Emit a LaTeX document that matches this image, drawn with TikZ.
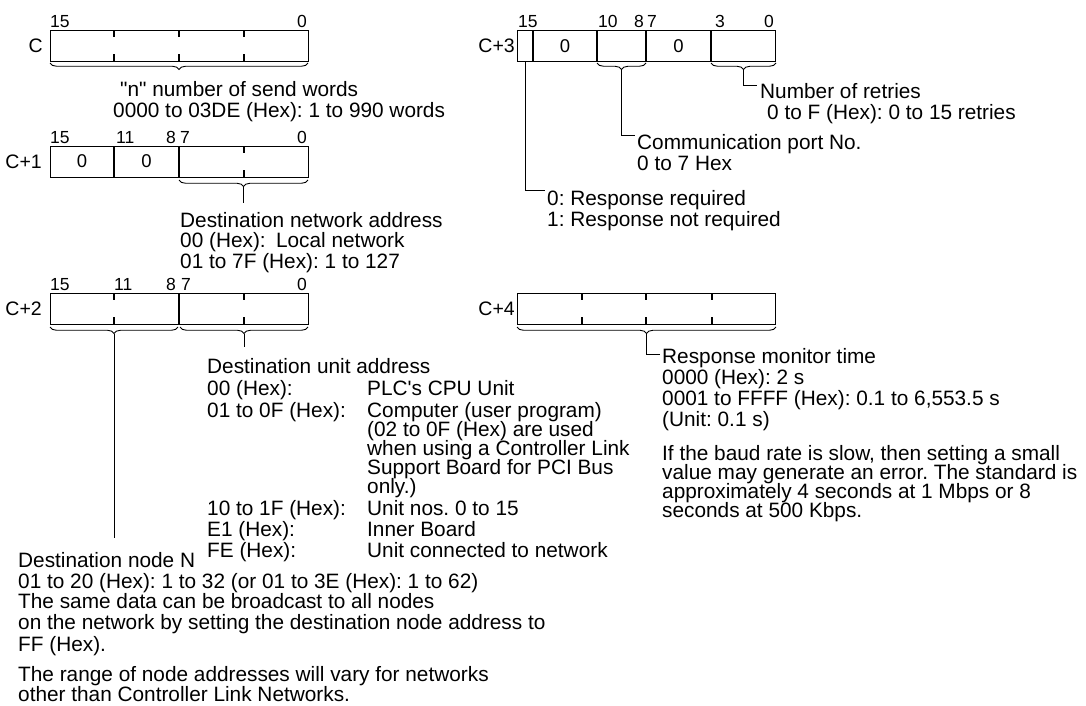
\documentclass[tikz,border=0pt]{standalone}
\usepackage{fontspec}
\setmainfont{Liberation Sans}[Ligatures=TeXOff]
\frenchspacing
\usetikzlibrary{positioning, decorations.pathreplacing}

\begin{document}
\begin{tikzpicture}[
    x=1pt, y=-1pt,
    font=\fontsize{20.8}{21}\selectfont,
    % Word Styles
    word/.style={
        rectangle, draw=black, line width=1.2pt, anchor=north west,
        minimum width=258pt, minimum height=31pt, inner sep=0pt
    },
    wordname/.style={font=\fontsize{19.5}{20}\selectfont, inner sep=0pt},
    bitno/.style={font=\fontsize{17.5}{18}\selectfont, inner sep=0pt},
    cellval/.style={font=\fontsize{18.5}{19}\selectfont, inner sep=0pt},
    % Text Style
    txt/.style={anchor=base west, inner sep=0pt},
    % Line Styles
    solidbar/.style={line width=1.2pt},
    dashbar/.style={line width=1.2pt, dash pattern=on 7pt off 17pt},
    brc/.style={decorate, decoration={brace, mirror, amplitude=6.5pt}, line width=0.9pt},
    lead/.style={line width=1pt}
]
    \useasboundingbox (0,0) rectangle (1086,705);

    % --- WORD C ---
    \node[word] (wC) at (50,30) {};
    \node[wordname, left=7pt of wC] (lC) {C};
    \node[bitno, anchor=base west] (bC15) at (50,27) {15};
    \node[bitno, anchor=base east] (bC0) at (307,27) {0};
    \foreach \x in {114, 179, 244} {
        \draw[dashbar] (\x,30) -- (\x,61);
    }
    \draw[brc] (50,63) -- (308,63);
    \node[txt] (nsw1) at (120,96) {"n" number of send words};
    \node[txt] (nsw2) at (113,117) {0000 to 03DE (Hex): 1 to 990 words};

    % --- WORD C+1 ---
    \node[word] (wC1) at (50,146) {};
    \node[wordname, left=8pt of wC1] (lC1) {C+1};
    \node[bitno, anchor=base west] (bC1a) at (50,143) {15};
    \node[bitno, anchor=base west] (bC1b) at (116,143) {11};
    \node[bitno, anchor=base east] (bC1c) at (176,143) {8};
    \node[bitno, anchor=base west] (bC1d) at (180,143) {7};
    \node[bitno, anchor=base east] (bC1e) at (307,143) {0};
    \foreach \x in {114, 179} {
        \draw[solidbar] (\x,146) -- (\x,177);
    }
    \draw[dashbar] (244,146) -- (244,177);
    \node[cellval] (zC1a) at (82,161) {0};
    \node[cellval] (zC1b) at (146.5,161) {0};
    \draw[brc] (179,180) -- (308,180);
    \coordinate (tipNet) at (243.5,186.5);
    \coordinate (endNet) at (243.5,203);
    \draw[lead] (tipNet) -- (endNet);
    \node[txt] (dna1) at (180,227) {Destination network address};
    \node[txt] (dna2) at (180,247) {00 (Hex):\enspace Local network};
    \node[txt] (dna3) at (180,268) {01 to 7F (Hex): 1 to 127};

    % --- WORD C+2 ---
    \node[word] (wC2) at (50,293) {};
    \node[wordname, left=8pt of wC2] (lC2) {C+2};
    \node[bitno, anchor=base west] (bC2a) at (50,290) {15};
    \node[bitno, anchor=base west] (bC2b) at (114,290) {11};
    \node[bitno, anchor=base east] (bC2c) at (176,290) {8};
    \node[bitno, anchor=base west] (bC2d) at (181,290) {7};
    \node[bitno, anchor=base east] (bC2e) at (307,290) {0};
    \foreach \x in {114, 244} {
        \draw[dashbar] (\x,293) -- (\x,324);
    }
    \draw[solidbar] (179,293) -- (179,324);
    \draw[brc] (50,327) -- (178,327);
    \draw[brc] (180,327) -- (308,327);
    \coordinate (tipNode) at (114,333.5);
    \coordinate (endNode) at (114,538);
    \coordinate (tipUnit) at (244,333.5);
    \coordinate (endUnit) at (244,347);
    \draw[lead] (tipNode) -- (endNode);
    \draw[lead] (tipUnit) -- (endUnit);

    % Destination unit address
    \node[txt] (dua0) at (207,373) {Destination unit address};
    \node[txt] (dua1) at (207,395) {00 (Hex):};
    \node[txt] (dua1v) at (367,395) {PLC's CPU Unit};
    \node[txt] (dua2) at (207,417) {01 to 0F (Hex):};
    \node[txt] (dua2v) at (367,417) {Computer (user program)};
    \node[txt] (dua2w) at (367,436) {(02 to 0F (Hex) are used};
    \node[txt] (dua2x) at (367,455) {when using a Controller Link};
    \node[txt] (dua2y) at (367,474) {Support Board for PCI Bus};
    \node[txt] (dua2z) at (367,493) {only.)};
    \node[txt] (dua3) at (207,515) {10 to 1F (Hex):};
    \node[txt] (dua3v) at (367,515) {Unit nos. 0 to 15};
    \node[txt] (dua4) at (207,536) {E1 (Hex):};
    \node[txt] (dua4v) at (367,536) {Inner Board};
    \node[txt] (dua5) at (207,557) {FE (Hex):};
    \node[txt] (dua5v) at (367,557) {Unit connected to network};

    % Destination node
    \node[txt] (dnn1) at (18,567) {Destination node N};
    \node[txt] (dnn2) at (18,588) {01 to 20 (Hex): 1 to 32 (or 01 to 3E (Hex): 1 to 62)};
    \node[txt] (dnn3) at (18,608) {The same data can be broadcast to all nodes};
    \node[txt] (dnn4) at (18,629) {on the network by setting the destination node address to};
    \node[txt] (dnn5) at (18,651) {FF (Hex).};
    \node[txt] (dnn6) at (18,681) {The range of node addresses will vary for networks};
    \node[txt] (dnn7) at (18,701) {other than Controller Link Networks.};

    % --- WORD C+3 ---
    \node[word] (wC3) at (517,30) {};
    \node[wordname, left=2pt of wC3] (lC3) {C+3};
    \node[bitno, anchor=base west] (bC3a) at (518,27) {15};
    \node[bitno, anchor=base west] (bC3b) at (598,27) {10};
    \node[bitno, anchor=base east] (bC3c) at (644,27) {8};
    \node[bitno, anchor=base west] (bC3d) at (647,27) {7};
    \node[bitno, anchor=base west] (bC3e) at (715,27) {3};
    \node[bitno, anchor=base east] (bC3f) at (774,27) {0};
    \foreach \x in {533, 597, 646, 711} {
        \draw[solidbar] (\x,30) -- (\x,61);
    }
    \node[cellval] (zC3a) at (565,46) {0};
    \node[cellval] (zC3b) at (678.5,46) {0};
    \draw[brc] (597,63) -- (646,63);
    \draw[brc] (711,63) -- (776,63);
    \coordinate (tipPort) at (621.5,69.5);
    \coordinate (tipRetry) at (743.5,69.5);
    \coordinate (bitResp) at (525,61);

    \node[txt] (nor1) at (760,98) {Number of retries};
    \node[txt] (nor2) at (767,119) {0 to F (Hex): 0 to 15 retries};
    \node[txt] (cpn1) at (637,149) {Communication port No.};
    \node[txt] (cpn2) at (637,170) {0 to 7 Hex};
    \node[txt] (rsp1) at (547,205) {0: Response required};
    \node[txt] (rsp2) at (547,226) {1: Response not required};

    \draw[lead] (tipRetry) |- ([xshift=-3pt, yshift=13pt]nor1.base west);
    \draw[lead] (tipPort) |- ([xshift=-2pt, yshift=14pt]cpn1.base west);
    \draw[lead] (bitResp) |- ([xshift=-2pt, yshift=15pt]rsp1.base west);

    % --- WORD C+4 ---
    \node[word] (wC4) at (517,293) {};
    \node[wordname, left=2pt of wC4] (lC4) {C+4};
    \foreach \x in {582, 646, 712} {
        \draw[dashbar] (\x,293) -- (\x,324);
    }
    \draw[brc] (517,327) -- (776,327);
    \coordinate (tipTime) at (646.5,333.5);

    \node[txt] (rmt1) at (662,363) {Response monitor time};
    \node[txt] (rmt2) at (662,384) {0000 (Hex): 2 s};
    \node[txt] (rmt3) at (662,405) {0001 to FFFF (Hex): 0.1 to 6,553.5 s};
    \node[txt] (rmt4) at (662,426) {(Unit: 0.1 s)};
    \node[txt] (bdr1) at (662,460) {If the baud rate is slow, then setting a small};
    \node[txt] (bdr2) at (662,479) {value may generate an error. The standard is};
    \node[txt] (bdr3) at (662,498) {approximately 4 seconds at 1 Mbps or 8};
    \node[txt] (bdr4) at (662,517) {seconds at 500 Kbps.};

    \draw[lead] (tipTime) |- ([xshift=-2pt, yshift=9pt]rmt1.base west);

\end{tikzpicture}
\end{document}
